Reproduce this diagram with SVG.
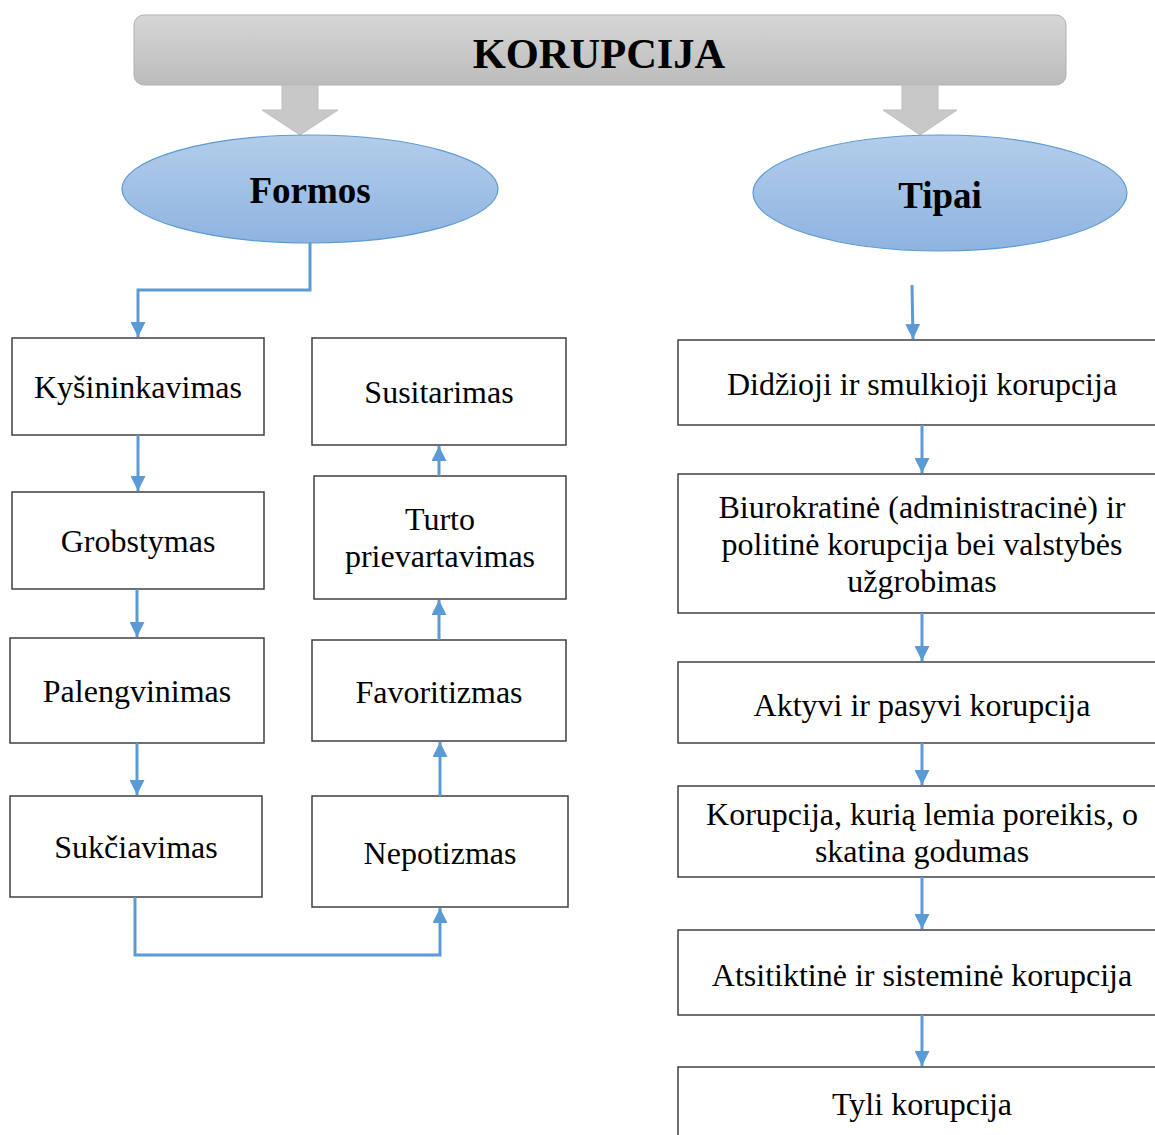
<svg xmlns="http://www.w3.org/2000/svg" width="1155" height="1135" viewBox="0 0 1155 1135">
  <defs>
    <linearGradient id="gray" x1="0" y1="0" x2="0" y2="1">
      <stop offset="0" stop-color="#d6d6d6"/>
      <stop offset="1" stop-color="#bcbcbc"/>
    </linearGradient>
    <linearGradient id="blue" x1="0" y1="0" x2="0" y2="1">
      <stop offset="0" stop-color="#b3cdea"/>
      <stop offset="1" stop-color="#8eb4e1"/>
    </linearGradient>
    <marker id="ah" viewBox="0 0 10 10" refX="10" refY="5" markerWidth="5" markerHeight="5" orient="auto" markerUnits="strokeWidth">
      <path d="M0,0 L10,5 L0,10 Z" fill="#5b9bd5"/>
    </marker>
  </defs>
  <style>
    .box { fill: #ffffff; stroke: #404040; stroke-width: 1.5; }
    .t { font-family: "Liberation Serif", "Times New Roman", serif; font-size: 32px; fill: #000; text-anchor: middle; }
    .h { font-family: "Liberation Serif", "Times New Roman", serif; font-weight: bold; fill: #000; text-anchor: middle; }
    .ell { fill: url(#blue); stroke: #5b9bd5; stroke-width: 1.2; }
    .con { fill: none; stroke: #5b9bd5; stroke-width: 3; marker-end: url(#ah); }
    .blk { fill: #c8c8c8; stroke: #bdbdbd; stroke-width: 1; }
  </style>

  <!-- title -->
  <g id="korupcija">
    <rect x="134" y="15" width="932" height="70" rx="10" fill="url(#gray)" stroke="#b0b0b0" stroke-width="1"/>
    <text class="h" x="599" y="68" font-size="42.5">KORUPCIJA</text>
  </g>

  <!-- grey block arrows -->
  <g id="block-arrows">
    <path class="blk" d="M282,85 H318 V110 H338 L300,135 L262,110 H282 Z"/>
    <path class="blk" d="M902,85 H938 V110 H957 L920,135 L883,110 H902 Z"/>
  </g>

  <!-- category ellipses -->
  <g id="formos">
    <ellipse class="ell" cx="310" cy="189" rx="188" ry="54"/>
    <text class="h" x="310" y="203" font-size="37">Formos</text>
  </g>
  <g id="tipai">
    <ellipse class="ell" cx="940" cy="193" rx="187" ry="58"/>
    <text class="h" x="940" y="208" font-size="37">Tipai</text>
  </g>

  <!-- forms -->
  <g id="kysininkavimas">
    <rect class="box" x="12" y="338" width="252" height="97"/>
    <text class="t" x="138" y="398">Kyšininkavimas</text>
  </g>
  <g id="grobstymas">
    <rect class="box" x="12" y="492" width="252" height="97"/>
    <text class="t" x="138" y="552">Grobstymas</text>
  </g>
  <g id="palengvinimas">
    <rect class="box" x="10" y="638" width="254" height="105"/>
    <text class="t" x="137" y="702">Palengvinimas</text>
  </g>
  <g id="sukciavimas">
    <rect class="box" x="10" y="796" width="252" height="101"/>
    <text class="t" x="136" y="858">Sukčiavimas</text>
  </g>
  <g id="susitarimas">
    <rect class="box" x="312" y="338" width="254" height="107"/>
    <text class="t" x="439" y="403">Susitarimas</text>
  </g>
  <g id="turto-prievartavimas">
    <rect class="box" x="314" y="476" width="252" height="123"/>
    <text class="t" x="440" y="530">Turto</text>
    <text class="t" x="440" y="567">prievartavimas</text>
  </g>
  <g id="favoritizmas">
    <rect class="box" x="312" y="640" width="254" height="101"/>
    <text class="t" x="439" y="703">Favoritizmas</text>
  </g>
  <g id="nepotizmas">
    <rect class="box" x="312" y="796" width="256" height="111"/>
    <text class="t" x="440" y="864">Nepotizmas</text>
  </g>

  <!-- types -->
  <g id="didzioji">
    <rect class="box" x="678" y="340" width="490" height="85"/>
    <text class="t" x="922" y="395">Didžioji ir smulkioji korupcija</text>
  </g>
  <g id="biurokratine">
    <rect class="box" x="678" y="474" width="490" height="139"/>
    <text class="t" x="922" y="518">Biurokratinė (administracinė) ir</text>
    <text class="t" x="922" y="555">politinė korupcija bei valstybės</text>
    <text class="t" x="922" y="592">užgrobimas</text>
  </g>
  <g id="aktyvi">
    <rect class="box" x="678" y="662" width="490" height="81"/>
    <text class="t" x="922" y="716">Aktyvi ir pasyvi korupcija</text>
  </g>
  <g id="poreikis">
    <rect class="box" x="678" y="786" width="490" height="91"/>
    <text class="t" x="922" y="825">Korupcija, kurią lemia poreikis, o</text>
    <text class="t" x="922" y="862">skatina godumas</text>
  </g>
  <g id="atsitiktine">
    <rect class="box" x="678" y="930" width="490" height="85"/>
    <text class="t" x="922" y="986">Atsitiktinė ir sisteminė korupcija</text>
  </g>
  <g id="tyli">
    <rect class="box" x="678" y="1067" width="490" height="80"/>
    <text class="t" x="922" y="1115">Tyli korupcija</text>
  </g>

  <!-- connectors -->
  <g id="connectors">
    <path class="con" d="M310,243 V290 H138 V337"/>
    <path class="con" d="M138,435 V491"/>
    <path class="con" d="M137,589 V637"/>
    <path class="con" d="M137,743 V795"/>
    <path class="con" d="M135,897 V955 H440 V908"/>
    <path class="con" d="M440,796 V742"/>
    <path class="con" d="M439,640 V600"/>
    <path class="con" d="M439,476 V446"/>
    <path class="con" d="M912,285 L913,339"/>
    <path class="con" d="M922,425 V473"/>
    <path class="con" d="M922,613 V661"/>
    <path class="con" d="M922,743 V785"/>
    <path class="con" d="M922,877 V929"/>
    <path class="con" d="M922,1015 V1066"/>
  </g>
</svg>
